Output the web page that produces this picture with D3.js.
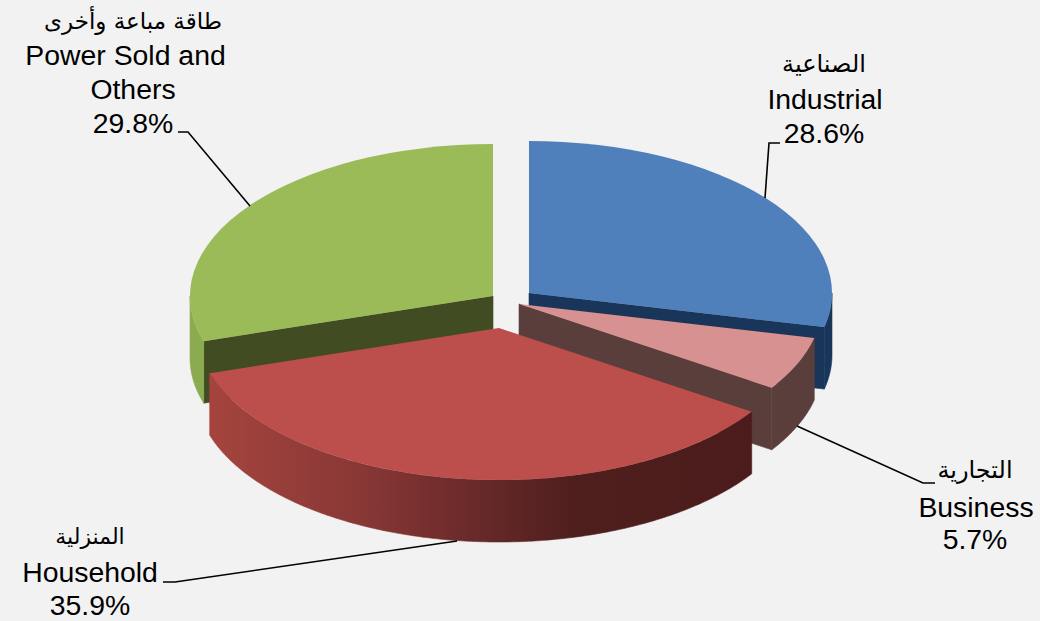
<!DOCTYPE html>
<html>
<head>
<meta charset="utf-8">
<script src="https://cdn.jsdelivr.net/npm/d3@7"></script>
<style>
  html, body { margin: 0; padding: 0; background: #f2f2f2; overflow: hidden; }
  text { font-family: "Liberation Sans", Arial, sans-serif; fill: #000; }
  .ar { font-family: "DejaVu Sans", sans-serif; }
</style>
</head>
<body>
<svg id="chart"></svg>
<script>
const width = 1040, height = 621;

// data, clockwise from 12 o'clock
const namesAr = ["الصناعية", "التجارية", "المنزلية", "طاقة مباعة وأخرى"];
const namesEn = [["Industrial"], ["Business"], ["Household"], ["Power Sold and", "Others"]];
const shares = [28.6, 5.7, 35.9, 29.8];

// pie look
const rx = 303, ry = 152, depth = 62;
const center = [511, 300];
const explode = [[18, -7], [8, 4], [-12, 28], [-18, -4]];
const topColors = ["#4f80bc", "#d79190", "#bc4e4b", "#9bbb59"];
const edgeColors = ["#19365a", "#5a3e3c", "#4e1c1a", "#414c22"];
// outer wall shading, [offset %, colour]
const rimStops = [
  [[0, "#19365a"]],
  [[0, "#5a3e3c"]],
  [[0, "#a8453f"], [28, "#873735"], [45, "#6b2a2a"], [62, "#4f1f1e"], [100, "#4a1b1a"]],
  [[0, "#8bab50"]]
];

// labels: x centre, baselines of the arabic line and the following lines
const labelPos = [
  { x: 824, ar: 72, en: [109], pct: 143 },
  { x: 975, ar: 478, en: [517], pct: 549 },
  { x: 90, ar: 544, en: [582], pct: 615 },
  { x: 133, ar: 29, en: [65, 99], pct: 133 }
];
// "Power Sold and " keeps a trailing space in the source, so it sits left of the block centre
const enShift = [[1], [1], [0], [-7.5, 0]];
const leaders = [
  [[765, 198], [769, 143], [780, 143]],
  [[797, 426], [923, 483], [935, 483]],
  [[457, 541], [175, 582], [163, 582]],
  [[250, 206], [188, 132], [178, 132]]
];
const arSize = [24, 24, 22, 23];
const enSize = 28.4;

const svg = d3.select("#chart")
  .attr("width", width)
  .attr("height", height)
  .attr("viewBox", `0 0 ${width} ${height}`);

const defs = svg.append("defs");
const pie = d3.pie().sort(null).value(d => d);
const slices = pie(shares);
const arc = d3.arc().innerRadius(0).outerRadius(rx);
const line = d3.line();

const onRim = a => [rx * Math.sin(a), -ry * Math.cos(a)];

rimStops.forEach((stops, i) => {
  const grad = defs.append("linearGradient")
    .attr("id", `rim${i}`)
    .attr("gradientUnits", "userSpaceOnUse")
    .attr("x1", -rx).attr("x2", rx).attr("y1", 0).attr("y2", 0);
  stops.forEach(st => {
    grad.append("stop").attr("offset", `${st[0]}%`).attr("stop-color", st[1]);
  });
});

// back slices first, the front (red) one last
const drawOrder = [0, 3, 1, 2];

drawOrder.forEach(i => {
  const s = slices[i];
  const g = svg.append("g")
    .attr("transform", `translate(${center[0] + explode[i][0]},${center[1] + explode[i][1]})`);

  // radial wall, only where it faces the viewer
  [s.startAngle, s.endAngle].forEach(a => {
    if (Math.abs(a - s.startAngle) < 1e-6 && Math.sin(a) >= -1e-6) return;
    if (Math.abs(a - s.endAngle) < 1e-6 && Math.sin(a) <= 1e-6) return;
    const p = onRim(a);
    g.append("path")
      .attr("d", line([[0, 0], p, [p[0], p[1] + depth], [0, depth]]) + "Z")
      .attr("fill", edgeColors[i])
      .attr("stroke", edgeColors[i])
      .attr("stroke-width", 0.6);
  });

  // outer wall, lower half of the ellipse only
  const a0 = Math.max(s.startAngle, Math.PI / 2);
  const a1 = Math.min(s.endAngle, Math.PI * 1.5);
  if (a0 < a1) {
    const rim = d3.range(a0, a1, 0.01).concat(a1).map(onRim);
    const low = rim.map(p => [p[0], p[1] + depth]).reverse();
    g.append("path")
      .attr("d", line(rim.concat(low)) + "Z")
      .attr("fill", `url(#rim${i})`)
      .attr("stroke", `url(#rim${i})`)
      .attr("stroke-width", 0.6);
  }

  // top face
  g.append("path")
    .attr("transform", `scale(1,${ry / rx})`)
    .attr("d", arc(s))
    .attr("fill", topColors[i]);
});

// leader lines
svg.selectAll("path.leader")
  .data(leaders)
  .join("path")
  .attr("class", "leader")
  .attr("d", d => line(d))
  .attr("fill", "none")
  .attr("stroke", "#000")
  .attr("stroke-width", 1.6);

// labels
labelPos.forEach((p, i) => {
  svg.append("text").attr("class", "ar")
    .attr("x", p.x).attr("y", p.ar)
    .attr("text-anchor", "middle")
    .attr("font-size", arSize[i])
    .text(namesAr[i]);
  namesEn[i].forEach((t, j) => {
    svg.append("text")
      .attr("x", p.x + enShift[i][j]).attr("y", p.en[j])
      .attr("text-anchor", "middle")
      .attr("font-size", enSize)
      .text(t);
  });
  svg.append("text")
    .attr("x", p.x).attr("y", p.pct)
    .attr("text-anchor", "middle")
    .attr("font-size", enSize)
    .text(shares[i].toFixed(1) + "%");
});
</script>
</body>
</html>
